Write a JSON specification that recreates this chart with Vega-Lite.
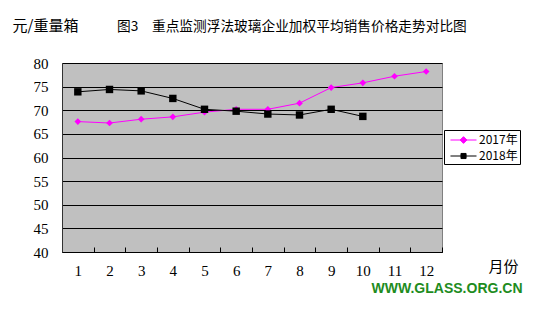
{
  "$schema": "https://vega.github.io/schema/vega-lite/v6.json",
  "width": 380,
  "height": 189,
  "autosize": {"type": "none"},
  "padding": {"left": 62, "top": 63, "right": 94, "bottom": 58},
  "background": "white",
  "title": {
    "text": "图3　重点监测浮法玻璃企业加权平均销售价格走势对比图",
    "anchor": "start",
    "dx": 105,
    "offset": 0,
    "dy": 16,
    "font": "Noto Sans CJK SC",
    "fontSize": 13.7,
    "fontWeight": "normal",
    "color": "black"
  },
  "config": {
    "view": {"fill": "#C0C0C0", "stroke": "#808080", "strokeWidth": 1},
    "font": "Noto Sans CJK SC"
  },
  "data": {
    "values": [
      {"month": "1", "series": "2017年", "price": 67.6},
      {"month": "2", "series": "2017年", "price": 67.3},
      {"month": "3", "series": "2017年", "price": 68.1},
      {"month": "4", "series": "2017年", "price": 68.6},
      {"month": "5", "series": "2017年", "price": 69.6},
      {"month": "6", "series": "2017年", "price": 70.2},
      {"month": "7", "series": "2017年", "price": 70.2},
      {"month": "8", "series": "2017年", "price": 71.5},
      {"month": "9", "series": "2017年", "price": 74.8},
      {"month": "10", "series": "2017年", "price": 75.8},
      {"month": "11", "series": "2017年", "price": 77.2},
      {"month": "12", "series": "2017年", "price": 78.2},
      {"month": "1", "series": "2018年", "price": 73.9},
      {"month": "2", "series": "2018年", "price": 74.4},
      {"month": "3", "series": "2018年", "price": 74.1},
      {"month": "4", "series": "2018年", "price": 72.5},
      {"month": "5", "series": "2018年", "price": 70.2},
      {"month": "6", "series": "2018年", "price": 69.8},
      {"month": "7", "series": "2018年", "price": 69.2},
      {"month": "8", "series": "2018年", "price": 69.0},
      {"month": "9", "series": "2018年", "price": 70.2},
      {"month": "10", "series": "2018年", "price": 68.7}
    ]
  },
  "resolve": {"axis": {"x": "independent", "y": "independent"}},
  "layer": [
    {
      "mark": {"type": "line", "strokeWidth": 1},
      "encoding": {
        "x": {
          "field": "month", "type": "ordinal", "sort": null,
          "scale": {"type": "band", "paddingInner": 0, "paddingOuter": 0},
          "axis": {
            "title": "月份",
            "titleX": 426, "titleY": 14,
            "titleAlign": "left", "titleBaseline": "middle",
            "titleFont": "Noto Sans CJK SC", "titleFontSize": 15, "titleFontWeight": "normal", "titleColor": "black",
            "labelAngle": 0,
            "labelFont": "Liberation Serif", "labelFontSize": 15, "labelColor": "black",
            "labelPadding": 16,
            "tickBand": "extent",
            "tickSize": -5, "tickColor": "black",
            "domainColor": "black",
            "grid": false
          }
        },
        "y": {
          "field": "price", "type": "quantitative",
          "scale": {"domain": [40, 80], "nice": false, "zero": false},
          "axis": {
            "values": [40, 45, 50, 55, 60, 65, 70, 75, 80],
            "labelOverlap": false,
            "title": "元/重量箱",
            "titleAngle": 0,
            "titleX": -50, "titleY": -38,
            "titleAlign": "left", "titleBaseline": "middle",
            "titleFont": "Noto Sans CJK SC", "titleFontSize": 15, "titleFontWeight": "normal", "titleColor": "black",
            "labelFont": "Liberation Serif", "labelFontSize": 15, "labelColor": "black",
            "ticks": false, "labelPadding": 14,
            "domainColor": "#333333",
            "grid": true, "gridColor": "black", "gridWidth": 1, "gridOpacity": 1
          }
        },
        "color": {
          "field": "series", "type": "nominal",
          "scale": {"domain": ["2017年", "2018年"], "range": ["#FF00FF", "#000000"]},
          "legend": {
            "title": null,
            "orient": "none",
            "legendX": 382, "legendY": 67,
            "direction": "vertical",
            "strokeColor": "black",
            "fillColor": "white",
            "padding": 2,
            "symbolSize": 225,
            "rowPadding": 2,
            "labelOffset": 17,
            "labelFont": "Noto Sans CJK SC",
            "labelFontSize": 12,
            "labelColor": "black",
            "encode": {
              "symbols": {
                "update": {
                  "shape": {"signal": "datum.value === '2017年' ? 'M-0.47,0H3.0M1.27,-0.45L1.72,0L1.27,0.45L0.82,0Z' : 'M-0.47,0H3.0M0.93,-0.34H1.61V0.34H0.93Z'"},
                  "stroke": {"signal": "datum.value === '2017年' ? '#FF00FF' : '#000000'"},
                  "fill": {"signal": "datum.value === '2017年' ? '#FF00FF' : '#000000'"},
                  "strokeWidth": {"value": 1},
                  "opacity": {"value": 1}
                }
              }
            }
          }
        }
      }
    },
    {
      "transform": [{"filter": "datum.series === '2017年'"}],
      "mark": {"type": "point", "filled": true, "opacity": 1, "shape": "diamond", "size": 45},
      "encoding": {
        "x": {
          "field": "month", "type": "ordinal", "sort": null,
          "axis": {
            "orient": "top",
            "title": "WWW.GLASS.ORG.CN",
            "titleX": 460, "titleY": 225,
            "titleAlign": "right", "titleBaseline": "middle",
            "titleFont": "Liberation Sans", "titleFontSize": 14, "titleFontWeight": "bold", "titleColor": "#1E8C1E",
            "labels": false, "ticks": false, "domain": false, "grid": false
          }
        },
        "y": {"field": "price", "type": "quantitative", "axis": null},
        "color": {"field": "series", "type": "nominal"}
      }
    },
    {
      "transform": [{"filter": "datum.series === '2018年'"}],
      "mark": {"type": "point", "filled": true, "opacity": 1, "shape": "square", "size": 55},
      "encoding": {
        "x": {"field": "month", "type": "ordinal", "sort": null, "axis": null},
        "y": {"field": "price", "type": "quantitative", "axis": null},
        "color": {"field": "series", "type": "nominal"}
      }
    }
  ]
}
